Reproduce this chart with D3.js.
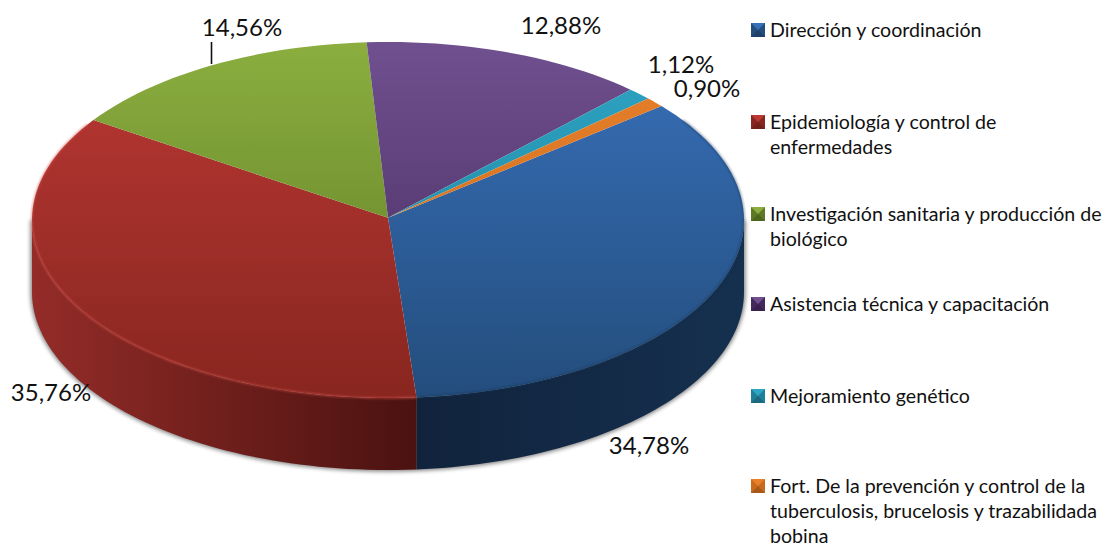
<!DOCTYPE html>
<html>
<head>
<meta charset="utf-8">
<script src="https://cdn.jsdelivr.net/npm/d3@7"></script>
<style>
  html, body { margin: 0; padding: 0; background: #fff; }
  text { font-family: Lato, "Open Sans", sans-serif; fill: #111; }
  .value { font-size: 24px; }
  .legend { font-size: 19.6px; }
</style>
</head>
<body>
<svg id="chart" width="1107" height="546"></svg>
<script>
const categories = ['Dirección y coordinación', 'Epidemiología y control de enfermedades',
  'Investigación sanitaria y producción de biológico', 'Asistencia técnica y capacitación',
  'Mejoramiento genético', 'Fort. De la prevención y control de la tuberculosis, brucelosis y trazabilidada bobina'];
const values = [34.78, 35.76, 14.56, 12.88, 1.12, 0.90];
const valueLabels = ['34,78%', '35,76%', '14,56%', '12,88%', '1,12%', '0,90%'];
const legendLines = [['Dirección y coordinación'], ['Epidemiología y control de', 'enfermedades'],
  ['Investigación sanitaria y producción de', 'biológico'], ['Asistencia técnica y capacitación'],
  ['Mejoramiento genético'], ['Fort. De la prevención y control de la', 'tuberculosis, brucelosis y trazabilidada', 'bobina']];
const topColors = [['#3870ba', '#234d7c'], ['#bb3835', '#88261f'], ['#8bae3f', '#5c7a24'],
  ['#70508f', '#43295c'], ['#2da5c4', '#1f7f98'], ['#e8802a', '#c96a1c']];
const sideColors = [['#11233c', '#15304f'], ['#4a1210', '#942c28'], ['#5a7526', '#6d8c30'],
  ['#4a2f66', '#5a3c78'], ['#1d6f85', '#238aa5'], ['#a3561a', '#c06a20']];

const cx = 388, cy = 220, rx = 356, ry = 178, depth = 72;
const labelX = [649, 51, 242, 561, 681, 707];
const labelY = [446, 393, 28, 26, 65, 89];
const legendY = [30, 122, 214, 304, 396, 486];

const svg = d3.select('#chart');
const defs = svg.append('defs');

// 3d pie: same angles as a flat pie, squashed to an ellipse
const pie = d3.pie().sort(null).value(d => d).startAngle(50.2 * Math.PI / 180).endAngle((50.2 + 360) * Math.PI / 180);
const arcs = pie(values);
const xScale = d3.scaleLinear().domain([-1, 1]).range([cx - rx, cx + rx]);
const yScale = d3.scaleLinear().domain([-1, 1]).range([cy + ry, cy - ry]);
const px = a => xScale(Math.sin(a));
const py = a => yScale(Math.cos(a));

topColors.forEach((c, i) => {
  const g = defs.append('linearGradient').attr('id', 'top' + i).attr('gradientUnits', 'userSpaceOnUse')
    .attr('x1', 0).attr('x2', 0).attr('y1', cy - ry).attr('y2', cy + ry);
  g.append('stop').attr('offset', 0).attr('stop-color', c[0]);
  g.append('stop').attr('offset', 1).attr('stop-color', c[1]);
});
sideColors.forEach((c, i) => {
  const g = defs.append('linearGradient').attr('id', 'side' + i).attr('gradientUnits', 'userSpaceOnUse')
    .attr('x1', i == 1 ? px(arcs[1].startAngle) : px(arcs[0].endAngle))
    .attr('x2', i == 1 ? cx - rx : cx + rx).attr('y1', 0).attr('y2', 0);
  g.append('stop').attr('offset', 0).attr('stop-color', c[0]);
  g.append('stop').attr('offset', 1).attr('stop-color', c[1]);
});
const blur = defs.append('filter').attr('id', 'shadow').attr('x', '-10%').attr('y', '-10%').attr('width', '120%').attr('height', '120%');
blur.append('feGaussianBlur').attr('stdDeviation', 2.2);
const edge = defs.append('filter').attr('id', 'edge').attr('x', '-5%').attr('y', '-5%').attr('width', '110%').attr('height', '110%');
edge.append('feGaussianBlur').attr('stdDeviation', 0.9);

const line = d3.line();
// outline of the wall between two angles, always going round the front
function wall(a0, a1) {
  const angles = d3.range(0, 61).map(i => a0 + (a1 - a0) * i / 60);
  const up = angles.map(a => [px(a), py(a)]);
  const down = angles.slice().reverse().map(a => [px(a), py(a) + depth]);
  return line(up.concat(down)) + 'Z';
}
function sector(d) {
  const n = Math.max(4, Math.ceil((d.endAngle - d.startAngle) * 30));
  const pts = [[cx, yScale(0.012)]];
  for (let i = 0; i <= n; i++) {
    const a = d.startAngle + (d.endAngle - d.startAngle) * i / n;
    pts.push([px(a), py(a)]);
  }
  return line(pts) + 'Z';
}
function rim(a0, a1) {
  return line(d3.range(0, 81).map(i => {
    const a = a0 + (a1 - a0) * i / 80;
    return [px(a), py(a)];
  }));
}

// soft shadow behind the body
svg.append('path').attr('d', wall(Math.PI / 2, Math.PI * 3 / 2))
  .attr('fill', '#000').attr('stroke', '#000').attr('stroke-width', 3).attr('opacity', 0.5).attr('filter', 'url(#shadow)');

// walls, only what faces the viewer
svg.append('g').selectAll('path').data(arcs).join('path')
  .filter(d => {
    const a0 = Math.max(d.startAngle, Math.PI / 2), a1 = Math.min(d.endAngle, Math.PI * 3 / 2);
    return a1 > a0;
  })
  .attr('d', d => wall(Math.max(d.startAngle, Math.PI / 2), Math.min(d.endAngle, Math.PI * 3 / 2)))
  .attr('fill', d => `url(#side${d.index})`);

// top face
svg.append('g').selectAll('path').data(arcs).join('path')
  .attr('d', sector)
  .attr('fill', d => `url(#top${d.index})`);

// bevel along the rim: light on the red slice, dark on the blue one
svg.append('path').attr('d', rim(arcs[1].startAngle, Math.PI * 1.68))
  .attr('fill', 'none').attr('stroke', '#d5504a').attr('stroke-width', 1.4).attr('opacity', 0.75).attr('filter', 'url(#edge)');
svg.append('path').attr('d', rim(arcs[0].startAngle + 0.1, arcs[0].endAngle))
  .attr('fill', 'none').attr('stroke', '#16304f').attr('stroke-width', 2).attr('opacity', 0.45).attr('filter', 'url(#edge)');

// value labels
svg.append('g').selectAll('text').data(valueLabels).join('text')
  .attr('class', 'value').attr('text-anchor', 'middle')
  .attr('x', (d, i) => labelX[i]).attr('y', (d, i) => labelY[i] + 8)
  .text(d => d);
svg.append('line').attr('x1', 211.5).attr('x2', 211.5).attr('y1', 42).attr('y2', 64).attr('stroke', '#111').attr('stroke-width', 1.6);

// legend
const legend = svg.append('g').selectAll('g').data(categories).join('g')
  .attr('transform', (d, i) => `translate(751,${legendY[i]})`);
legend.each(function (d, i) {
  const g = d3.select(this);
  const s = 14, t = -7;
  g.append('rect').attr('x', 0).attr('y', t).attr('width', s).attr('height', s).attr('fill', topColors[i][1]);
  g.append('path').attr('d', line([[0, t], [s, t], [s / 2, t + s / 2]]) + 'Z').attr('fill', topColors[i][0]);
  g.append('path').attr('d', line([[0, t + s], [s, t + s], [s / 2, t + s / 2]]) + 'Z').attr('fill', d3.color(topColors[i][1]).darker(0.5));
  g.append('text').attr('class', 'legend').attr('y', 7)
    .selectAll('tspan').data(legendLines[i]).join('tspan')
    .attr('x', 19).attr('dy', (l, j) => j ? 25 : 0).text(l => l);
});
</script>
</body>
</html>
